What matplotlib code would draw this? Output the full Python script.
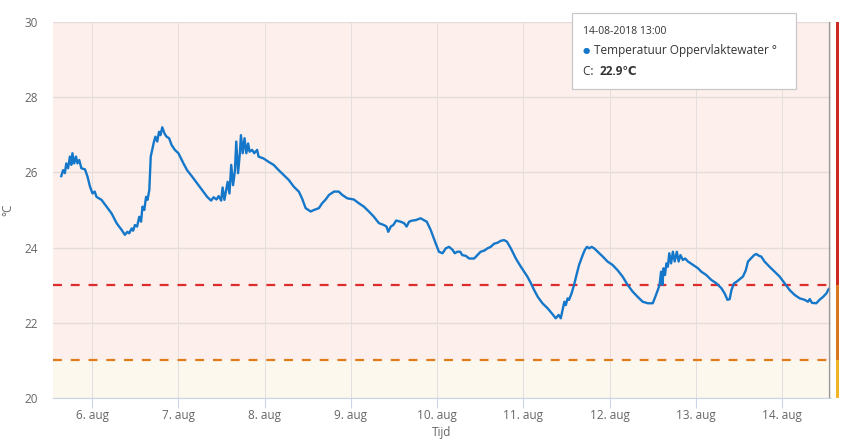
import matplotlib
matplotlib.use("Agg")
import matplotlib.pyplot as plt
import matplotlib.dates as mdates
from matplotlib.patches import Rectangle
from datetime import datetime, timedelta

plt.rcParams['font.family'] = ['Open Sans', 'DejaVu Sans']

# hours since 2018-08-05 00:00
hours = [15.4, 15.9, 16.4, 16.8, 17.3, 17.8, 18.2, 18.5, 19.0, 19.5, 19.9, 20.4, 21.0, 22.0, 22.7, 23.4,
         24.1, 24.7, 25.2, 26.6, 28.0, 29.4, 30.8, 32.2, 33.1, 33.8, 34.3, 35.0, 35.4, 35.9, 36.5, 37.1,
         37.6, 38.0, 38.5, 39.0, 39.4, 39.9, 40.3, 40.7, 41.2, 41.6, 42.1, 42.6, 43.0, 43.5, 44.1, 44.7,
         45.4, 46.1, 47.0, 48.0, 49.4, 50.4, 51.8, 53.2, 54.6, 56.0, 57.1, 57.8, 58.6, 59.2, 59.9, 60.3,
         60.8, 61.3, 61.7, 62.2, 62.7, 63.2, 63.7, 64.1, 64.6, 65.1, 65.4, 65.9, 66.4, 66.9, 67.4, 67.8,
         68.5, 69.1, 69.9, 70.3, 71.7, 73.1, 74.5, 75.9, 77.3, 78.7, 80.1, 81.5, 82.4, 83.4, 84.8, 85.7,
         87.1, 88.0, 88.9, 89.9, 91.3, 92.6, 93.6, 95.0, 96.8, 98.2, 99.6, 101.0, 102.4, 103.8, 105.2,
         105.9, 106.4, 107.1, 107.8, 108.6, 109.8, 110.8, 111.5, 112.2, 113.1, 114.0, 115.4, 116.3,
         117.1, 118.2, 119.6, 120.5, 121.5, 122.4, 123.3, 124.3, 124.9, 125.6, 126.4, 127.0, 128.0,
         128.9, 130.3, 131.2, 132.1, 133.1, 134.0, 134.9, 135.8, 136.8, 137.7, 138.6, 139.4, 140.5,
         141.9, 143.3, 144.2, 145.1, 146.1, 147.0, 148.0, 149.3, 150.7, 152.1, 153.0, 153.8, 154.4,
         154.9, 155.4, 155.8, 156.3, 156.7, 157.4, 158.1, 158.9, 159.5, 160.5, 161.1, 161.7, 162.3,
         163.0, 163.7, 164.7, 166.1, 167.4, 168.8, 170.2, 171.6, 173.0, 174.4, 175.8, 177.2, 178.6,
         180.0, 180.7, 181.4, 181.9, 182.3, 182.7, 183.0, 183.4, 183.8, 184.2, 184.6, 185.1, 185.6,
         186.1, 186.7, 187.2, 187.7, 188.4, 189.0, 189.8, 191.2, 192.6, 193.5, 194.9, 196.3, 197.7,
         199.1, 200.0, 200.8, 201.4, 201.9, 202.6, 203.3, 204.2, 205.1, 205.9, 206.5, 207.4, 208.2,
         208.8, 209.6, 210.2, 211.1, 212.5, 213.9, 215.3, 216.7, 218.1, 219.5, 220.9, 222.3, 223.2,
         223.7, 224.3, 225.5, 226.4, 227.4, 228.3, 228.9, 229.0]
temps = [25.90, 26.06, 25.98, 26.24, 26.11, 26.42, 26.20, 26.51, 26.24, 26.42, 26.24, 26.33, 26.11, 26.08, 25.89, 25.62,
         25.44, 25.49, 25.35, 25.27, 25.09, 24.91, 24.65, 24.47, 24.34, 24.42, 24.38, 24.51, 24.45, 24.60, 24.56, 24.82,
         24.69, 25.09, 25.00, 25.35, 25.27, 25.53, 26.42, 26.60, 26.82, 26.95, 26.82, 27.08, 26.99, 27.20, 27.04, 26.95,
         26.91, 26.73, 26.60, 26.51, 26.24, 26.06, 25.89, 25.71, 25.53, 25.35, 25.25, 25.34, 25.28, 25.37, 25.25, 25.60,
         25.27, 25.53, 25.75, 25.44, 26.20, 25.66, 26.02, 26.82, 25.98, 26.51, 26.99, 26.51, 26.91, 26.51, 26.77, 26.55,
         26.60, 26.51, 26.60, 26.42, 26.37, 26.28, 26.20, 26.06, 25.93, 25.80, 25.62, 25.49, 25.31, 25.05, 24.96, 25.00,
         25.05, 25.18, 25.27, 25.40, 25.49, 25.49, 25.40, 25.31, 25.28, 25.18, 25.09, 24.96, 24.82, 24.65, 24.60,
         24.56, 24.42, 24.56, 24.60, 24.72, 24.69, 24.65, 24.56, 24.69, 24.72, 24.73, 24.78, 24.73,
         24.69, 24.47, 24.11, 23.89, 23.85, 23.98, 24.02, 23.94, 23.85, 23.89, 23.89, 23.80, 23.78,
         23.71, 23.71, 23.80, 23.89, 23.92, 23.98, 24.02, 24.10, 24.13, 24.18, 24.20, 24.16, 23.98,
         23.71, 23.49, 23.36, 23.23, 23.05, 22.87, 22.69, 22.52, 22.39, 22.23, 22.12, 22.21, 22.12,
         22.34, 22.56, 22.47, 22.65, 22.61, 22.78, 23.01, 23.32, 23.54, 23.80, 23.94, 24.02, 23.98,
         24.02, 23.98, 23.89, 23.76, 23.63, 23.54, 23.40, 23.23, 23.01, 22.83, 22.69, 22.56, 22.52,
         22.52, 22.69, 22.87, 23.01, 23.36, 23.01, 23.45, 23.27, 23.58, 23.49, 23.85, 23.58, 23.89,
         23.63, 23.89, 23.63, 23.80, 23.67, 23.71, 23.63, 23.54, 23.45, 23.36, 23.27, 23.14, 23.05,
         22.92, 22.78, 22.61, 22.63, 22.87, 23.05, 23.09, 23.16, 23.23, 23.40, 23.63, 23.72, 23.80,
         23.83, 23.78, 23.76, 23.63, 23.49, 23.36, 23.23, 23.05, 22.87, 22.74, 22.65, 22.61, 22.56,
         22.63, 22.53, 22.52, 22.61, 22.69, 22.78, 22.89, 22.90]

upper_limit = 23.0
lower_limit = 21.0
y_ticks = [20, 22, 24, 26, 28, 30]
day_ticks = [6, 7, 8, 9, 10, 11, 12, 13, 14]
tick_labels = [f"{d}. aug" for d in day_ticks]

base = datetime(2018, 8, 5)
times = [base + timedelta(hours=h) for h in hours]

fig = plt.figure(figsize=(8.45, 4.46), dpi=100)
ax = fig.add_axes([53 / 845, 48 / 446, (831 - 53) / 845, (398 - 22) / 446])

xmin = base + timedelta(hours=13.1)
xmax = base + timedelta(hours=229.6)
ax.set_xlim(xmin, xmax)
ax.set_ylim(20, 30)

# plot bands
ax.axhspan(lower_limit, 30, color='#fcefec', zorder=0, lw=0)
ax.axhspan(20, lower_limit, color='#fdf8ee', zorder=0, lw=0)

for yt in y_ticks:
    ax.axhline(yt, color='#e6dcd9', lw=1, zorder=1)
tick_dates = [datetime(2018, 8, d) for d in day_ticks]
for td in tick_dates:
    ax.axvline(td, color='#e4dede', lw=0.7, zorder=1)

ax.axhline(upper_limit, color='#dd2c2c', lw=1.6, ls=(0, (4, 4)), zorder=2)
ax.axhline(lower_limit, color='#e07b1a', lw=1.6, ls=(0, (4, 4)), zorder=2)

ax.plot(times, temps, color='#1577c9', lw=1.7, zorder=3)

# crosshair at last point
ax.axvline(times[-1], color='#999999', lw=0.9, zorder=4)
ax.axvline(xmax, color='#999999', lw=0.9, zorder=4)

ax.set_xticks(tick_dates)
ax.set_xticklabels(tick_labels)
ax.set_yticks(y_ticks)
ax.tick_params(axis='x', length=7.5, color='#ccd6eb', labelsize=8.5, labelcolor='#666666', pad=0.5)
ax.tick_params(axis='y', length=0, labelsize=8.5, labelcolor='#666666', pad=11)
for s in ['top', 'right', 'left']:
    ax.spines[s].set_visible(False)
ax.spines['bottom'].set_color('#ccd6eb')
ax.set_ylabel('°C', color='#666666', fontsize=8.5)
ax.yaxis.set_label_coords(-39 / 778, 0.5)
ax.set_xlabel('Tijd', color='#666666', fontsize=8.5, labelpad=3)

# colored threshold bar at right
bar_ax = fig.add_axes([836 / 845, 48 / 446, 3 / 845, (398 - 22) / 446])
bar_ax.set_ylim(20, 30)
bar_ax.set_xlim(0, 1)
bar_ax.axhspan(upper_limit, 30, color='#cc2a22', lw=0)
bar_ax.axhspan(lower_limit, upper_limit, color='#d9781c', lw=0)
bar_ax.axhspan(20, lower_limit, color='#f0b429', lw=0)
bar_ax.axis('off')

# tooltip
fig.patches.append(Rectangle((572 / 845, 1 - 89 / 446), (796 - 572) / 845, (89 - 13) / 446,
                             transform=fig.transFigure, facecolor='white', edgecolor='#c8c8c8',
                             lw=0.9, zorder=10))
fig.text(583 / 845, 1 - 34 / 446, '14-08-2018 13:00', fontsize=7.5, color='#333333', zorder=11)
fig.text(583 / 845, 1 - 53 / 446, '●', fontsize=6, color='#1577c9', zorder=11)
fig.text(594 / 845, 1 - 54 / 446, 'Temperatuur Oppervlaktewater °', fontsize=8.5, color='#333333', zorder=11)
fig.text(583 / 845, 1 - 75 / 446, 'C: ', fontsize=8.5, color='#333333', zorder=11)
fig.text(600 / 845, 1 - 75 / 446, '22.9℃', fontsize=8.5, color='#333333', weight='bold', zorder=11)

fig.savefig('out.png', dpi=100)
